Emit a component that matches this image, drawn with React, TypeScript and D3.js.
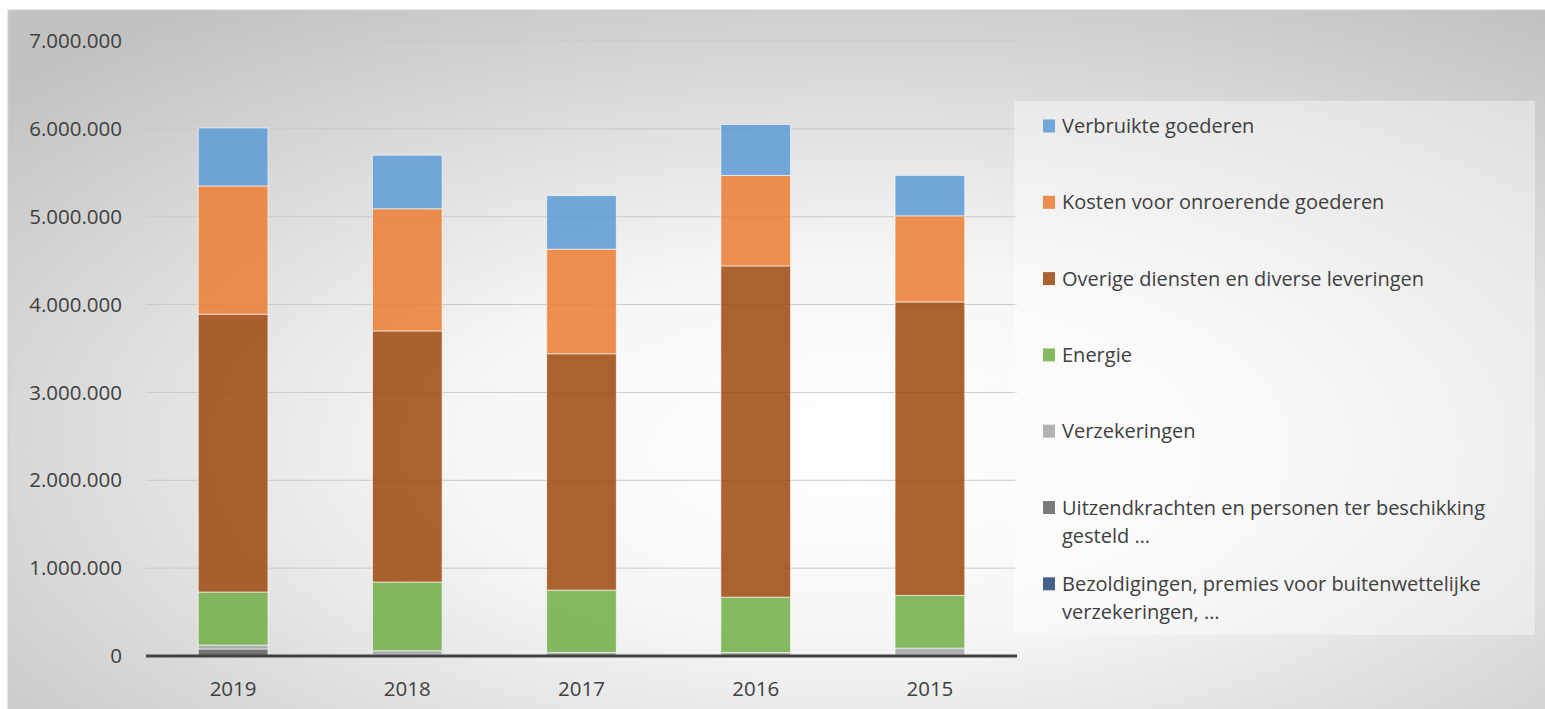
import React from 'react';
import * as d3 from 'd3';

const years = ['2019', '2018', '2017', '2016', '2015'];

const series = [
  'Bezoldigingen, premies voor buitenwettelijke verzekeringen, …',
  'Uitzendkrachten en personen ter beschikking gesteld …',
  'Verzekeringen',
  'Energie',
  'Overige diensten en diverse leveringen',
  'Kosten voor onroerende goederen',
  'Verbruikte goederen',
];

// values per series, in order of years
const bezoldigingen = [0, 0, 0, 0, 0];
const uitzendkrachten = [80000, 15000, 5000, 5000, 10000];
const verzekeringen = [45000, 45000, 35000, 35000, 80000];
const energie = [603000, 782000, 710000, 630000, 600000];
const overigeDiensten = [3162000, 2858000, 2690000, 3770000, 3340000];
const kostenOnroerend = [1460000, 1390000, 1190000, 1030000, 980000];
const verbruikteGoederen = [660000, 610000, 610000, 580000, 460000];

const yTicks = [0, 1000000, 2000000, 3000000, 4000000, 5000000, 6000000, 7000000];

const colors = ['#264478', '#636363', '#a5a5a5', '#70ad47', '#9e480e', '#ed7d31', '#5b9bd5'];

// legend lines (top to bottom)
const legendLines = [
  ['Verbruikte goederen'],
  ['Kosten voor onroerende goederen'],
  ['Overige diensten en diverse leveringen'],
  ['Energie'],
  ['Verzekeringen'],
  ['Uitzendkrachten en personen ter beschikking', 'gesteld …'],
  ['Bezoldigingen, premies voor buitenwettelijke', 'verzekeringen, …'],
];

const W = 1545;
const H = 709;
const font = '"Open Sans", Lato, sans-serif';

export default function App() {
  const valueArrays = [bezoldigingen, uitzendkrachten, verzekeringen, energie, overigeDiensten, kostenOnroerend, verbruikteGoederen];
  const rows = years.map((y, i) => {
    const r: any = { year: y };
    series.forEach((s, j) => (r[s] = valueArrays[j][i]));
    return r;
  });
  const stacked = d3.stack().keys(series)(rows);

  const x = d3.scaleBand().domain(years).range([146, 1017]).paddingInner(0.6).paddingOuter(0.3);
  const y = d3.scaleLinear().domain([0, 7000000]).range([656, 41]);
  const fmt = d3.formatLocale({ decimal: ',', thousands: '.', grouping: [3], currency: ['€', ''] }).format(',');

  const legendY0 = 126;
  const legendStep = 76.3;

  return (
    <svg width={W} height={H} style={{ display: 'block', position: 'absolute', left: 0, top: 0 }}>
      <defs>
        <radialGradient id="bg" cx="0.55" cy="0.62" r="0.75">
          <stop offset="0" stopColor="#ffffff" />
          <stop offset="0.35" stopColor="#f6f6f6" />
          <stop offset="1" stopColor="#c2c2c2" />
        </radialGradient>
      </defs>
      <rect x={0} y={0} width={W} height={H} fill="#ffffff" />
      <rect x={8} y={10} width={W} height={H} fill="url(#bg)" stroke="#d0d0d0" strokeWidth={1} />

      {yTicks.map(t => (
        <g key={t}>
          {t > 0 && <line x1={146} x2={1017} y1={y(t)} y2={y(t)} stroke="#c9c9c9" strokeWidth={1} />}
          <text x={122} y={y(t)} dy="0.35em" textAnchor="end" fontFamily={font} fontSize={20.5} fill="#404040">
            {fmt(t)}
          </text>
        </g>
      ))}

      {stacked.map((layer, j) => (
        <g key={layer.key} fill={colors[j]} fillOpacity={0.85}>
          {layer.map((d, i) => {
            const h = y(d[0]) - y(d[1]);
            if (h <= 0) return null;
            return (
              <rect
                key={i}
                x={x(years[i])}
                y={y(d[1])}
                width={x.bandwidth()}
                height={h}
                stroke="#ffffff"
                strokeOpacity={0.6}
                strokeWidth={1}
              />
            );
          })}
        </g>
      ))}

      <line x1={146} x2={1017} y1={y(0)} y2={y(0)} stroke="#404040" strokeWidth={3} />

      {years.map(yr => (
        <text key={yr} x={(x(yr) as number) + x.bandwidth() / 2} y={689} dy="0.35em" textAnchor="middle" fontFamily={font} fontSize={20.5} fill="#404040">
          {yr}
        </text>
      ))}

      <rect x={1014} y={101} width={521} height={534} fill="#ffffff" fillOpacity={0.4} />
      {legendLines.map((lines, i) => {
        const cy = legendY0 + i * legendStep;
        const ci = colors.length - 1 - i;
        return (
          <g key={i}>
            <rect x={1043} y={cy - 6.5} width={12} height={13} fill={colors[ci]} fillOpacity={0.85} />
            {lines.map((l, k) => (
              <text key={k} x={1062} y={cy + k * 28} dy="0.35em" fontFamily={font} fontSize={20} fill="#404040">
                {l}
              </text>
            ))}
          </g>
        );
      })}
    </svg>
  );
}
